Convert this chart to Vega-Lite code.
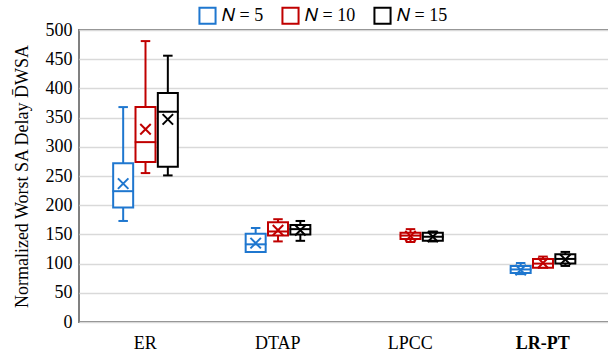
{
  "$schema": "https://vega.github.io/schema/vega-lite/v6.json",
  "width": 530,
  "height": 292,
  "autosize": "none",
  "padding": {"left": 79, "top": 30, "right": 0, "bottom": 40},
  "config": {
    "font": "Liberation Serif",
    "view": {"stroke": "#808080", "strokeWidth": 2},
    "axis": {"labelFont": "Liberation Serif", "titleFont": "Liberation Serif", "labelColor": "#000", "titleColor": "#000"}
  },
  "data": {
    "values": [
      {"method": "ER", "N": "5", "lower": 173, "q1": 196, "median": 224, "q3": 272, "upper": 368, "mean": 237},
      {"method": "ER", "N": "10", "lower": 255, "q1": 274, "median": 308, "q3": 368, "upper": 481, "mean": 330},
      {"method": "ER", "N": "15", "lower": 251, "q1": 266, "median": 360, "q3": 392, "upper": 456, "mean": 347},
      {"method": "DTAP", "N": "5", "lower": 120, "q1": 120, "median": 133, "q3": 151, "upper": 161, "mean": 135},
      {"method": "DTAP", "N": "10", "lower": 138, "q1": 148, "median": 155, "q3": 171, "upper": 176, "mean": 157},
      {"method": "DTAP", "N": "15", "lower": 139, "q1": 150, "median": 159, "q3": 166, "upper": 173, "mean": 157},
      {"method": "LPCC", "N": "10", "lower": 137, "q1": 142, "median": 148, "q3": 153, "upper": 159, "mean": 147},
      {"method": "LPCC", "N": "15", "lower": 138, "q1": 139, "median": 146, "q3": 153, "upper": 155, "mean": 146},
      {"method": "LR-PT", "N": "5", "lower": 82, "q1": 84, "median": 90, "q3": 96, "upper": 101, "mean": 89},
      {"method": "LR-PT", "N": "10", "lower": 93, "q1": 93, "median": 100, "q3": 108, "upper": 112, "mean": 101},
      {"method": "LR-PT", "N": "15", "lower": 96, "q1": 100, "median": 108, "q3": 116, "upper": 120, "mean": 107}
    ]
  },
  "encoding": {
    "x": {
      "field": "method", "type": "nominal", "sort": ["ER", "DTAP", "LPCC", "LR-PT"],
      "scale": {"paddingInner": 0, "paddingOuter": 0},
      "axis": {
        "title": null, "ticks": false, "domain": false, "grid": false, "labelAngle": 0,
        "labelFont": "Liberation Serif", "labelFontSize": 18, "labelPadding": 12,
        "labelFontWeight": {"condition": {"test": "datum.value === 'LR-PT'", "value": "bold"}, "value": "normal"}
      }
    },
    "xOffset": {"field": "N", "type": "nominal", "scale": {"domain": ["5", "10", "15"], "range": [33, 100], "paddingOuter": 0, "paddingInner": 0}},
    "color": {
      "field": "N", "type": "nominal",
      "scale": {"domain": ["5", "10", "15"], "range": ["#1f77cf", "#c00000", "#000000"]},
      "legend": {
        "title": null, "orient": "none", "legendX": 119, "legendY": -24, "direction": "horizontal",
        "symbolType": "square", "symbolSize": 260, "symbolStrokeWidth": 2, "symbolFillColor": "white", "symbolOpacity": 1,
        "labelFont": "Liberation Serif", "labelFontSize": 18, "labelColor": "#000", "columnPadding": 14, "labelOffset": 5,
        "labelExpr": "'\uD835\uDC41 = ' + datum.label"
      }
    },
    "y": {
      "field": "lower", "type": "quantitative",
      "scale": {"domain": [0, 500], "nice": false},
      "axis": {
        "tickCount": 11, "grid": true,
        "labelOverlap": false, "labelBound": false,
        "title": "Normalized Worst SA Delay D\u0304WSA", "titleFont": "Liberation Serif", "titleFontSize": 18, "titleFontWeight": "normal", "titlePadding": 14,
        "labelFont": "Liberation Serif", "labelFontSize": 18, "labelPadding": 7, "ticks": false, "domain": false,
        "gridColor": "#d9d9d9", "gridWidth": 1.5
      }
    }
  },
  "layer": [
    {
      "mark": {"type": "rule", "strokeWidth": 2},
      "encoding": {"y2": {"field": "upper"}}
    },
    {"mark": {"type": "tick", "size": 8, "thickness": 0.5, "strokeWidth": 1.5, "filled": false, "opacity": 1}, "encoding": {"y": {"field": "upper", "type": "quantitative"}}},
    {"mark": {"type": "tick", "size": 8, "thickness": 0.5, "strokeWidth": 1.5, "filled": false, "opacity": 1}},
    {
      "mark": {"type": "bar", "filled": false, "fill": "white", "strokeWidth": 2, "width": 20},
      "encoding": {"y": {"field": "q1", "type": "quantitative"}, "y2": {"field": "q3"}}
    },
    {"mark": {"type": "tick", "size": 20, "thickness": 0.5, "strokeWidth": 1.5, "filled": false, "opacity": 1}, "encoding": {"y": {"field": "median", "type": "quantitative"}}},
    {
      "mark": {"type": "point", "filled": false, "strokeWidth": 2, "size": 110, "opacity": 1, "shape": "M-1,-1L1,1M-1,1L1,-1"},
      "encoding": {"y": {"field": "mean", "type": "quantitative"}}
    }
  ]
}
